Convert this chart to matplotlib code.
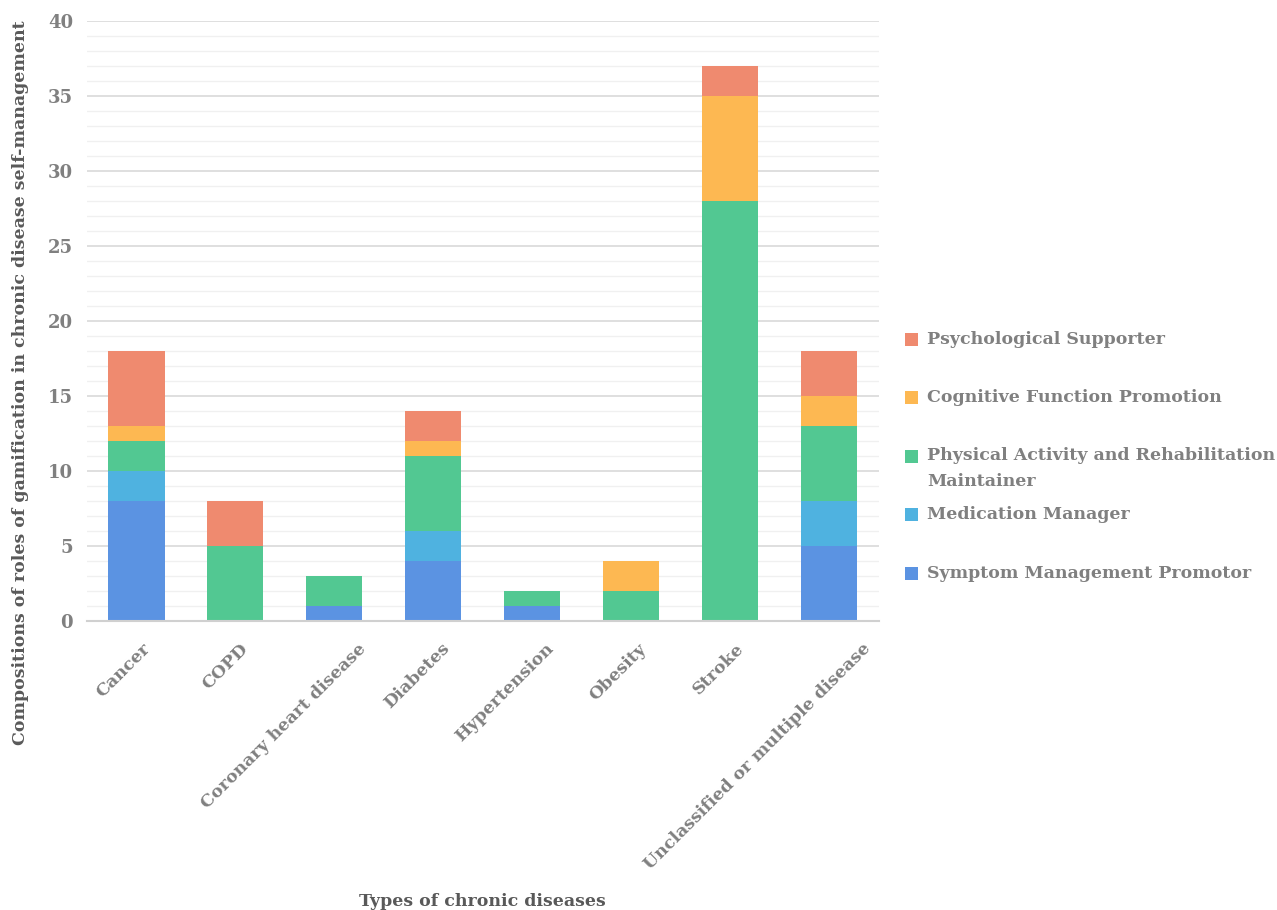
import matplotlib
matplotlib.use("Agg")
import matplotlib.pyplot as plt
import numpy as np
from matplotlib.patches import Rectangle
from matplotlib.transforms import ScaledTranslation

categories = ["Cancer", "COPD", "Coronary heart disease", "Diabetes", "Hypertension",
              "Obesity", "Stroke", "Unclassified or multiple disease"]
series_names = ["Symptom Management Promotor", "Medication Manager",
                "Physical Activity and Rehabilitation\nMaintainer",
                "Cognitive Function Promotion", "Psychological Supporter"]
symptom = [8, 0, 1, 4, 1, 0, 0, 5]
medication = [2, 0, 0, 2, 0, 0, 0, 3]
physical = [2, 5, 2, 5, 1, 2, 28, 5]
cognitive = [1, 0, 0, 1, 0, 2, 7, 2]
psych = [5, 3, 0, 2, 0, 0, 2, 3]
series = [symptom, medication, physical, cognitive, psych]
colors = ["#5B93E2", "#4FB2E0", "#52C892", "#FDB852", "#EF8A6F"]

font = "DejaVu Serif"
tick_color = "#808080"
label_color = "#595959"

W, H = 1277, 910
fig = plt.figure(figsize=(W / 100, H / 100), dpi=100)
ax = fig.add_axes([0.068, 0.318, 0.620, 0.659])

x = np.arange(len(categories))
bottom = np.zeros(len(categories))
for vals, c in zip(series, colors):
    ax.bar(x, vals, width=0.57, bottom=bottom, color=c, zorder=3)
    bottom += np.array(vals)

ax.set_xlim(-0.5, len(categories) - 0.5)
ax.set_ylim(0, 40)
ax.set_yticks(np.arange(0, 41, 5))
ax.set_yticks(np.arange(0, 41, 1), minor=True)
ax.grid(axis="y", which="major", color="#D9D9D9", linewidth=1.2, zorder=0)
ax.grid(axis="y", which="minor", color="#F0F0F0", linewidth=1.0, zorder=0)
for s in ["top", "right", "left"]:
    ax.spines[s].set_visible(False)
ax.spines["bottom"].set_color("#D0D0D0")
ax.spines["bottom"].set_linewidth(1.5)
ax.spines["bottom"].set_zorder(4)
ax.tick_params(axis="both", which="both", length=0)
ax.tick_params(axis="y", pad=10)
ax.tick_params(axis="x", pad=14)

ax.set_xticks(x)
ax.set_xticklabels(categories, rotation=45, ha="right", rotation_mode="anchor",
                   fontfamily=font, fontweight="bold", fontsize=12.5, color=tick_color)
for lab in ax.get_yticklabels():
    lab.set_fontfamily(font)
    lab.set_fontweight("bold")
    lab.set_fontsize(13)
    lab.set_color(tick_color)

# long rotated labels are shifted right a little, as in the reference
fig.canvas.draw()
renderer = fig.canvas.get_renderer()
for lab in ax.get_xticklabels():
    w = lab.get_window_extent(renderer).width
    shift = max(0.0, 0.16 * (w - 25))
    lab.set_transform(lab.get_transform() + ScaledTranslation(shift / 100, 0, fig.dpi_scale_trans))

fig.text(21 / W, 1 - 383 / H,
         "Compositions of roles of gamification in chronic disease self-management",
         rotation=90, ha="center", va="center",
         fontfamily=font, fontweight="bold", fontsize=12.5, color=label_color)
fig.text(0.378, 1 - 901 / H, "Types of chronic diseases", ha="center", va="center",
         fontfamily=font, fontweight="bold", fontsize=12.5, color=label_color)

# legend (reversed order, fixed slots)
slot0, step = 339, 58.5
line_h = 26
for i, (name, c) in enumerate(zip(series_names[::-1], colors[::-1])):
    yc = slot0 + i * step
    fig.patches.append(Rectangle((905 / W, 1 - (yc + 6.5) / H), 13 / W, 13 / H,
                                 transform=fig.transFigure, facecolor=c, edgecolor="none"))
    for j, line in enumerate(name.split("\n")):
        fig.text(927 / W, 1 - (yc + j * line_h) / H, line, ha="left", va="center",
                 fontfamily=font, fontweight="bold", fontsize=12.5, color=tick_color)

fig.savefig("out.png", dpi=100)
